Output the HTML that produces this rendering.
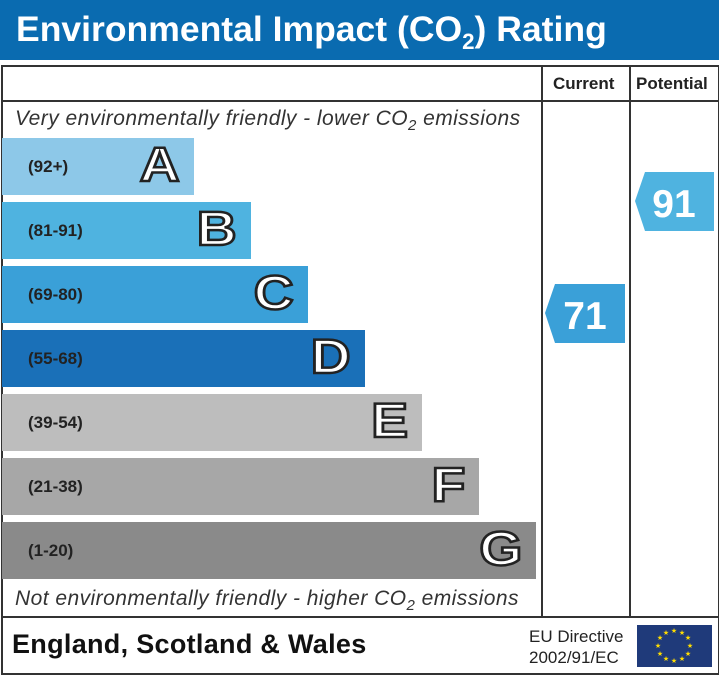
<!DOCTYPE html>
<html><head><style>
body{margin:0;width:719px;height:675px;background:#fff;font-family:"Liberation Sans",sans-serif;position:relative;overflow:hidden}
.a{position:absolute}
.bar{position:absolute;left:2px;height:57px}
.rng{position:absolute;left:26px;top:19px;font-size:17px;font-weight:bold;color:#222}
.let{position:absolute;right:14px;top:2px;font-size:48px;font-weight:bold;color:#fff;-webkit-text-stroke:2.5px #222;line-height:52px;transform:scaleX(1.15);transform-origin:right}
</style></head><body>
<div class="a" style="left:0;top:0;width:719px;height:60px;background:#0a6bb0"></div>
<div class="a" style="left:16px;top:8px;font-size:35px;font-weight:bold;color:#fff;line-height:44px;transform:scaleX(1.015);transform-origin:left">Environmental Impact (CO<sub style="font-size:22px">2</sub>) Rating</div>
<div class="a" style="left:1px;top:65px;width:715px;height:606px;border:2px solid #333"></div>
<div class="a" style="left:1px;top:100px;width:717px;height:2px;background:#333"></div>
<div class="a" style="left:1px;top:616px;width:717px;height:2px;background:#333"></div>
<div class="a" style="left:541px;top:65px;width:2px;height:552px;background:#333"></div>
<div class="a" style="left:629px;top:65px;width:2px;height:552px;background:#333"></div>
<div class="a" style="left:553px;top:74px;font-size:17px;font-weight:bold;color:#222">Current</div>
<div class="a" style="left:636px;top:74px;font-size:17px;font-weight:bold;color:#222">Potential</div>
<div class="a" style="left:15px;top:107px;font-size:21px;letter-spacing:0.45px;font-style:italic;color:#333">Very environmentally friendly - lower CO<sub style="font-size:15px">2</sub> emissions</div>
<div class="a" style="left:15px;top:587px;font-size:21px;letter-spacing:0.45px;font-style:italic;color:#333">Not environmentally friendly - higher CO<sub style="font-size:15px">2</sub> emissions</div>
<div class="bar" style="top:138px;width:192px;background:#8dc8e8"><span class="rng">(92+)</span><span class="let">A</span></div>
<div class="bar" style="top:202px;width:249px;background:#4fb3e0"><span class="rng">(81-91)</span><span class="let">B</span></div>
<div class="bar" style="top:266px;width:306px;background:#3aa0d8"><span class="rng">(69-80)</span><span class="let">C</span></div>
<div class="bar" style="top:330px;width:363px;background:#1a70b8"><span class="rng">(55-68)</span><span class="let">D</span></div>
<div class="bar" style="top:394px;width:420px;background:#bdbdbd"><span class="rng">(39-54)</span><span class="let">E</span></div>
<div class="bar" style="top:458px;width:477px;background:#a7a7a7"><span class="rng">(21-38)</span><span class="let">F</span></div>
<div class="bar" style="top:522px;width:534px;background:#8a8a8a"><span class="rng">(1-20)</span><span class="let">G</span></div>
<svg class="a" style="left:0;top:0" width="719" height="675">
<polygon points="555,284 625,284 625,343 555,343 545,313" fill="#3aa0d8"/>
<text x="585" y="329" text-anchor="middle" font-family="Liberation Sans" font-weight="bold" font-size="39" fill="#fff">71</text>
<polygon points="645,172 714,172 714,231 645,231 635,201" fill="#4fb3e0"/>
<text x="674" y="217" text-anchor="middle" font-family="Liberation Sans" font-weight="bold" font-size="39" fill="#fff">91</text>
<rect x="637" y="625" width="75" height="42" fill="#1f3a7a"/>
<g fill="#ffdd00" font-size="7" text-anchor="middle" font-family="DejaVu Sans">
<text x="674" y="633">★</text><text x="682" y="635">★</text><text x="688" y="640">★</text><text x="690" y="648">★</text><text x="688" y="656">★</text><text x="682" y="661">★</text><text x="674" y="663">★</text><text x="666" y="661">★</text><text x="660" y="656">★</text><text x="658" y="648">★</text><text x="660" y="640">★</text><text x="666" y="635">★</text>
</g>
</svg>
<div class="a" style="left:12px;top:629px;font-size:27px;letter-spacing:0.3px;font-weight:bold;color:#111">England, Scotland &amp; Wales</div>
<div class="a" style="left:529px;top:626px;font-size:17px;color:#222;line-height:21px">EU Directive<br>2002/91/EC</div>
</body></html>
